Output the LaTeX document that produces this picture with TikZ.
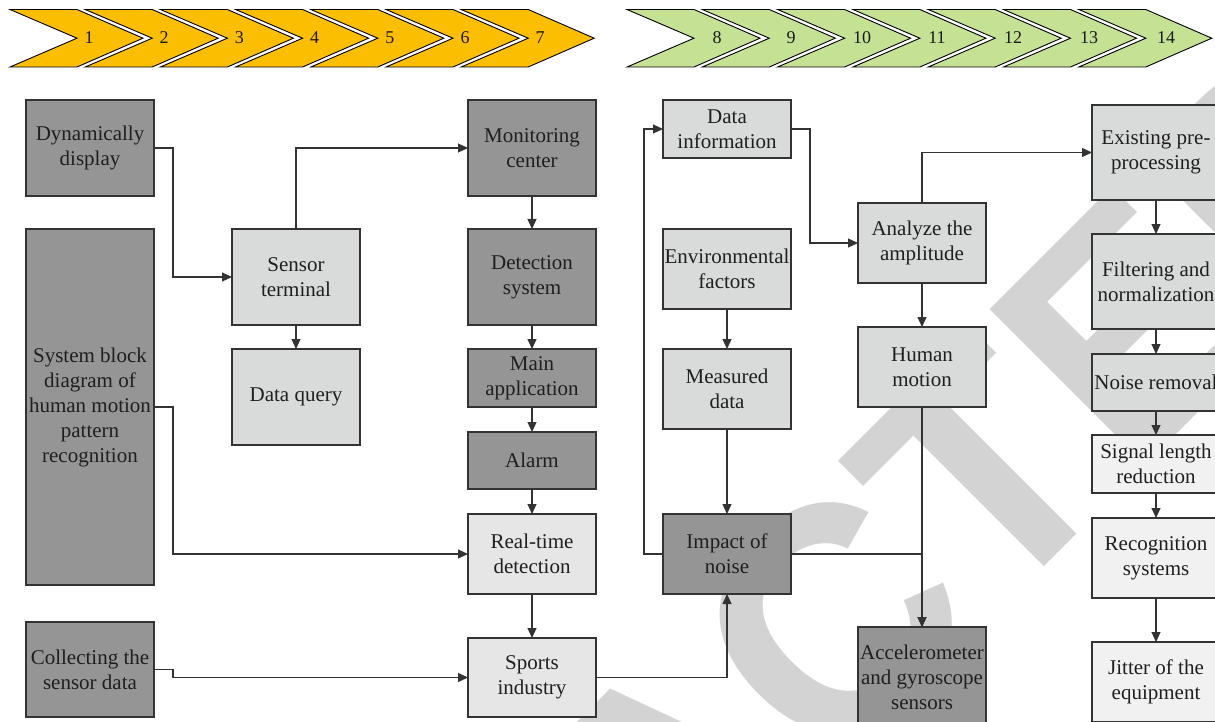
\documentclass[tikz,border=0pt]{standalone}
\usepackage{fontspec}
\setmainfont{Liberation Serif}
\newfontfamily\wmfont{Liberation Sans}
\usetikzlibrary{positioning, arrows.meta}

\definecolor{darkbox}{RGB}{149,149,149}
\definecolor{midbox}{RGB}{217,218,218}
\definecolor{lightbox}{RGB}{230,230,230}
\definecolor{palebox}{RGB}{241,241,241}
\definecolor{chevgold}{RGB}{251,190,0}
\definecolor{chevgreen}{RGB}{197,226,148}
\definecolor{edge}{RGB}{51,51,51}
\definecolor{wmgray}{RGB}{211,211,211}

\begin{document}
\begin{tikzpicture}[
    x=1pt, y=-1pt,
    cell/.style={
        rectangle,
        draw=edge,
        line width=1.2pt,
        minimum width=128pt,
        inner sep=0pt,
        outer sep=0pt,
        align=center,
        text=black!88,
        font=\fontsize{21}{25}\selectfont
    },
    darkcell/.style={cell, fill=darkbox},
    greycell/.style={cell, fill=midbox},
    lightcell/.style={cell, fill=lightbox},
    palecell/.style={cell, fill=palebox},
    arrow/.style={
        -{Triangle[length=10pt, width=9pt]},
        line width=1.2pt,
        draw=edge
    },
    chevron/.style={
        draw=black,
        line width=0.9pt
    },
    num/.style={
        inner sep=0pt,
        text=black!90,
        font=\fontsize{18}{18}\selectfont
    }
]

    \useasboundingbox (0,0) rectangle (1215,722);

    % -- Watermark --
    \node[rotate=45, anchor=base, inner sep=0pt, text=wmgray,
          font=\wmfont\bfseries\fontsize{320}{320}\selectfont] (stamp) at (747,864) {RETRACTED};

    % -- Step bar 1 to 7 --
    \draw[chevron, fill=chevgold] (10,9.5) -- ++(67,0) -- ++(66,28.7) -- ++(-66,28.8) -- ++(-67,0) -- ++(67,-28.8) -- cycle;
    \draw[chevron, fill=chevgold] (85.2,9.5) -- ++(67,0) -- ++(66,28.7) -- ++(-66,28.8) -- ++(-67,0) -- ++(67,-28.8) -- cycle;
    \draw[chevron, fill=chevgold] (160.4,9.5) -- ++(67,0) -- ++(66,28.7) -- ++(-66,28.8) -- ++(-67,0) -- ++(67,-28.8) -- cycle;
    \draw[chevron, fill=chevgold] (235.6,9.5) -- ++(67,0) -- ++(66,28.7) -- ++(-66,28.8) -- ++(-67,0) -- ++(67,-28.8) -- cycle;
    \draw[chevron, fill=chevgold] (310.8,9.5) -- ++(67,0) -- ++(66,28.7) -- ++(-66,28.8) -- ++(-67,0) -- ++(67,-28.8) -- cycle;
    \draw[chevron, fill=chevgold] (386,9.5) -- ++(67,0) -- ++(66,28.7) -- ++(-66,28.8) -- ++(-67,0) -- ++(67,-28.8) -- cycle;
    \draw[chevron, fill=chevgold] (461.2,9.5) -- ++(67,0) -- ++(66,28.7) -- ++(-66,28.8) -- ++(-67,0) -- ++(67,-28.8) -- cycle;

    \node[num] (step1) at (89,38) {1};
    \node[num] (step2) at (164.2,38) {2};
    \node[num] (step3) at (239.4,38) {3};
    \node[num] (step4) at (314.6,38) {4};
    \node[num] (step5) at (389.8,38) {5};
    \node[num] (step6) at (465,38) {6};
    \node[num] (step7) at (540.2,38) {7};

    % -- Step bar 8 to 14 --
    \draw[chevron, fill=chevgreen] (627,9.5) -- ++(67,0) -- ++(66,28.7) -- ++(-66,28.8) -- ++(-67,0) -- ++(67,-28.8) -- cycle;
    \draw[chevron, fill=chevgreen] (702.3,9.5) -- ++(67,0) -- ++(66,28.7) -- ++(-66,28.8) -- ++(-67,0) -- ++(67,-28.8) -- cycle;
    \draw[chevron, fill=chevgreen] (777.6,9.5) -- ++(67,0) -- ++(66,28.7) -- ++(-66,28.8) -- ++(-67,0) -- ++(67,-28.8) -- cycle;
    \draw[chevron, fill=chevgreen] (852.9,9.5) -- ++(67,0) -- ++(66,28.7) -- ++(-66,28.8) -- ++(-67,0) -- ++(67,-28.8) -- cycle;
    \draw[chevron, fill=chevgreen] (928.2,9.5) -- ++(67,0) -- ++(66,28.7) -- ++(-66,28.8) -- ++(-67,0) -- ++(67,-28.8) -- cycle;
    \draw[chevron, fill=chevgreen] (1003.5,9.5) -- ++(67,0) -- ++(66,28.7) -- ++(-66,28.8) -- ++(-67,0) -- ++(67,-28.8) -- cycle;
    \draw[chevron, fill=chevgreen] (1078.8,9.5) -- ++(67,0) -- ++(66,28.7) -- ++(-66,28.8) -- ++(-67,0) -- ++(67,-28.8) -- cycle;

    \node[num] (step8) at (717,38) {8};
    \node[num] (step9) at (791,38) {9};
    \node[num] (step10) at (862,38) {10};
    \node[num] (step11) at (937,38) {11};
    \node[num] (step12) at (1013,38) {12};
    \node[num] (step13) at (1089,38) {13};
    \node[num] (step14) at (1166,38) {14};

    % -- Column 1: inputs --
    \node[darkcell, minimum height=96pt] (dyn) at (90,148) {Dynamically\\display};
    \node[darkcell, minimum height=356pt, below=33pt of dyn] (sysdiag) {System block\\diagram of\\human motion\\pattern\\recognition};
    \node[darkcell, minimum height=95pt, below=37pt of sysdiag] (collect) {Collecting the\\sensor data};

    % -- Column 2 --
    \node[greycell, minimum height=96pt] (sensor) at (296,277) {Sensor\\terminal};
    \node[greycell, minimum height=96pt, below=24pt of sensor] (query) {Data query};

    % -- Column 3: monitoring chain --
    \node[darkcell, minimum height=96pt] (monitor) at (532,148) {Monitoring\\center};
    \node[darkcell, minimum height=96pt, below=33pt of monitor] (detect) {Detection\\system};
    \node[darkcell, minimum height=58pt, below=24pt of detect] (mainapp) {Main\\application};
    \node[darkcell, minimum height=57pt, below=25pt of mainapp] (alarm) {Alarm};
    \node[lightcell, minimum height=80pt, below=25pt of alarm] (realtime) {Real-time\\detection};
    \node[lightcell, minimum height=79pt, below=44pt of realtime] (sports) {Sports\\industry};

    % -- Column 4 --
    \node[greycell, minimum height=58pt] (datainfo) at (727,129) {Data\\information};
    \node[greycell, minimum height=80pt, below=71pt of datainfo] (envfac) {Environmental\\factors};
    \node[greycell, minimum height=80pt, below=40pt of envfac] (measured) {Measured\\data};
    \node[darkcell, minimum height=80pt, below=85pt of measured] (impact) {Impact of\\noise};

    % -- Column 5 --
    \node[greycell, minimum height=80pt] (analyze) at (922,243) {Analyze the\\amplitude};
    \node[greycell, minimum height=80pt, below=44pt of analyze] (human) {Human\\motion};
    \node[darkcell, minimum height=100pt, below=220pt of human] (accel) {Accelerometer\\and gyroscope\\sensors};

    % -- Column 6: processing chain --
    \node[greycell, minimum height=95pt] (existing) at (1156,152.5) {Existing pre-\\processing};
    \node[greycell, minimum height=95pt, below=34pt of existing] (filter) {Filtering and\\normalization};
    \node[greycell, minimum height=57pt, below=25pt of filter] (noiserm) {Noise removal};
    \node[palecell, minimum height=58pt, below=24pt of noiserm] (siglen) {Signal length\\reduction};
    \node[palecell, minimum height=80pt, below=25pt of siglen] (recog) {Recognition\\systems};
    \node[palecell, minimum height=80pt, below=44pt of recog] (jitter) {Jitter of the\\equipment};

    % Connectors, left half
    \draw[arrow] (dyn.east) -- ++(19,0) |- (sensor.west);
    \draw[arrow] (sysdiag.east) -- ++(19,0) |- (realtime.west);
    \draw[arrow] (collect.east) -- ++(19,0) |- (sports.west);
    \draw[arrow] (sensor.north) |- (monitor.west);
    \draw[arrow] (sensor.south) -- (query.north);
    \draw[arrow] (monitor.south) -- (detect.north);
    \draw[arrow] (detect.south) -- (mainapp.north);
    \draw[arrow] (mainapp.south) -- (alarm.north);
    \draw[arrow] (alarm.south) -- (realtime.north);
    \draw[arrow] (realtime.south) -- (sports.north);

    % Connectors, right half
    \draw[arrow] (sports.east) -| (impact.south);
    \draw[arrow] (impact.west) -- ++(-19,0) |- (datainfo.west);
    \draw[arrow] (datainfo.east) -- ++(19,0) |- (analyze.west);
    \draw[arrow] (envfac.south) -- (measured.north);
    \draw[arrow] (measured.south) -- (impact.north);
    \draw[arrow] (analyze.north) |- (existing.west);
    \draw[arrow] (analyze.south) -- (human.north);
    \draw[arrow] (human.south) -- (accel.north);
    \draw[arrow] (impact.east) -| (accel.north);
    \draw[arrow] (existing.south) -- (filter.north);
    \draw[arrow] (filter.south) -- (noiserm.north);
    \draw[arrow] (noiserm.south) -- (siglen.north);
    \draw[arrow] (siglen.south) -- (recog.north);
    \draw[arrow] (recog.south) -- (jitter.north);

\end{tikzpicture}
\end{document}
